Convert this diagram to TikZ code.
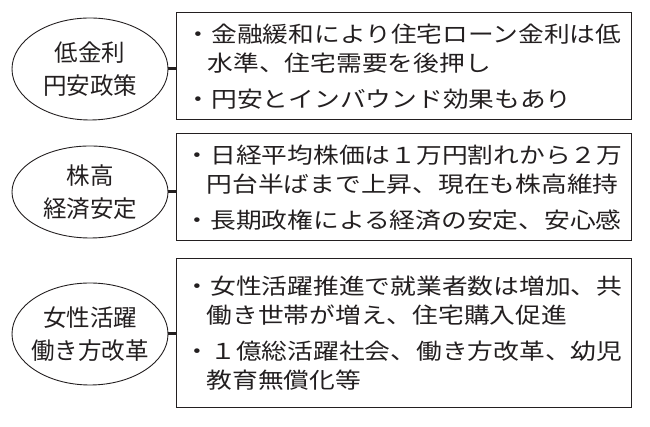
\documentclass[tikz,border=0pt]{standalone}
\usepackage{xcolor}
\usepackage{fontspec}
\setmainfont{Noto Sans CJK JP}
\newfontfamily\widejp[FakeStretch=1.17]{Noto Sans CJK JP}
\usepackage{tikz}
\usetikzlibrary{positioning,shapes.geometric}
\definecolor{inkgray}{HTML}{231F20}

\begin{document}
\begin{tikzpicture}[x=1pt,y=1pt,
  topic/.style={draw=inkgray,ellipse,line width=0.9pt,inner xsep=-12pt,inner ysep=-4pt,
                minimum width=156pt,minimum height=102pt,align=center,
                text=inkgray,font=\fontsize{23.5}{33}\selectfont},
  info/.style={draw=inkgray,line width=1pt,minimum width=455pt,minimum height=107pt,
               inner sep=0pt,align=left,text=inkgray,font=\widejp\fontsize{22}{29}\selectfont},
  link/.style={line width=3pt,color=inkgray},
]
  \useasboundingbox (0,0) rectangle (650,427);

  \node[topic] (policy) at (90,358) {低金利\\円安政策};
  \node[topic,minimum height=92pt] (market) at (90,235) {株高\\経済安定};
  \node[topic] (labor) at (90,93) {女性活躍\\働き方改革};

  \node[info] (policyinfo) at (403.5,360.5)
    {・金融緩和により住宅ローン金利は低\\\hspace*{1em}水準、住宅需要を後押し\\[7pt]・円安とインバウンド効果もあり};
  \node[info] (marketinfo) at (403.5,239.5)
    {・日経平均株価は１万円割れから２万\\\hspace*{1em}円台半ばまで上昇、現在も株高維持\\[7pt]・長期政権による経済の安定、安心感};
  \node[info,minimum height=149pt] (laborinfo) at (403.5,93.5)
    {・女性活躍推進で就業者数は増加、共\\\hspace*{1em}働き世帯が増え、住宅購入促進\\[7pt]・１億総活躍社会、働き方改革、幼児\\\hspace*{1em}教育無償化等};

  \draw[link] (policy.east) -- (policy.east -| policyinfo.west);
  \draw[link] (market.east) -- (market.east -| marketinfo.west);
  \draw[link] (labor.east) -- (labor.east -| laborinfo.west);
\end{tikzpicture}
\end{document}
